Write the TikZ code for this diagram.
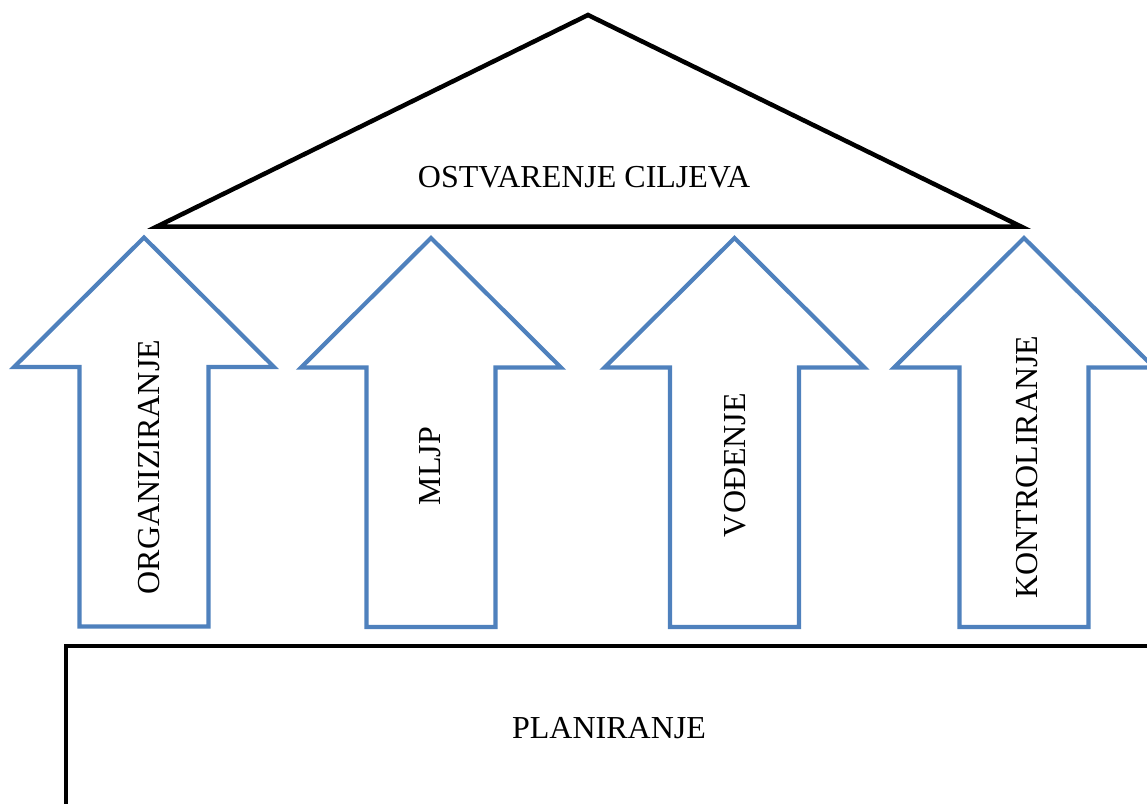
\documentclass[tikz,border=0pt]{standalone}
\usepackage{fontspec}
\setmainfont{Liberation Serif}
\definecolor{arrowblue}{HTML}{4F81BD}
\tikzset{
  roofline/.style={draw=black, line width=4.5pt, line join=miter},
  arrowline/.style={draw=arrowblue, line width=4.2pt, line join=miter},
  lbl/.style={font=\fontsize{32}{38}\selectfont, inner sep=0pt},
  vlbl/.style={lbl, rotate=90, anchor=base},
  uparrow/.pic={
    \path[arrowline] (0,0) -- (130,129.5) -- (64.5,129.5) -- (64.5,389) -- (-64.5,389) -- (-64.5,129.5) -- (-130,129.5) -- cycle;
  }
}
\begin{document}
\begin{tikzpicture}[x=1pt,y=-1pt]
\useasboundingbox (0,0) rectangle (1147,803);
\clip (0,0) rectangle (1147,803);
% roof
\coordinate (apex) at (588,15);
\coordinate (bl) at (157,226.5);
\coordinate (br) at (1021,226.5);
\path[roofline] (apex) -- (br) -- (bl) -- cycle;
\node[lbl, anchor=base] (goal) at (584,187) {OSTVARENJE CILJEVA};
% arrows
\pic at (144,237.5) {uparrow};
\pic at (431,238) {uparrow};
\pic at (734.5,238) {uparrow};
\pic at (1024,238) {uparrow};
\node[vlbl] (a1) at (159,467) {ORGANIZIRANJE};
\node[vlbl] (a2) at (440,466) {MLJP};
\node[vlbl] (a3) at (745,465) {VOĐENJE};
\node[vlbl] (a4) at (1037,467) {KONTROLIRANJE};
% base
\coordinate (pl) at (66,820);
\coordinate (pt) at (66,646);
\coordinate (pr) at (1170,646);
\path[roofline] (pl) -- (pt) -- (pr);
\node[lbl, anchor=base] (plan) at (609,738) {PLANIRANJE};
\end{tikzpicture}
\end{document}
